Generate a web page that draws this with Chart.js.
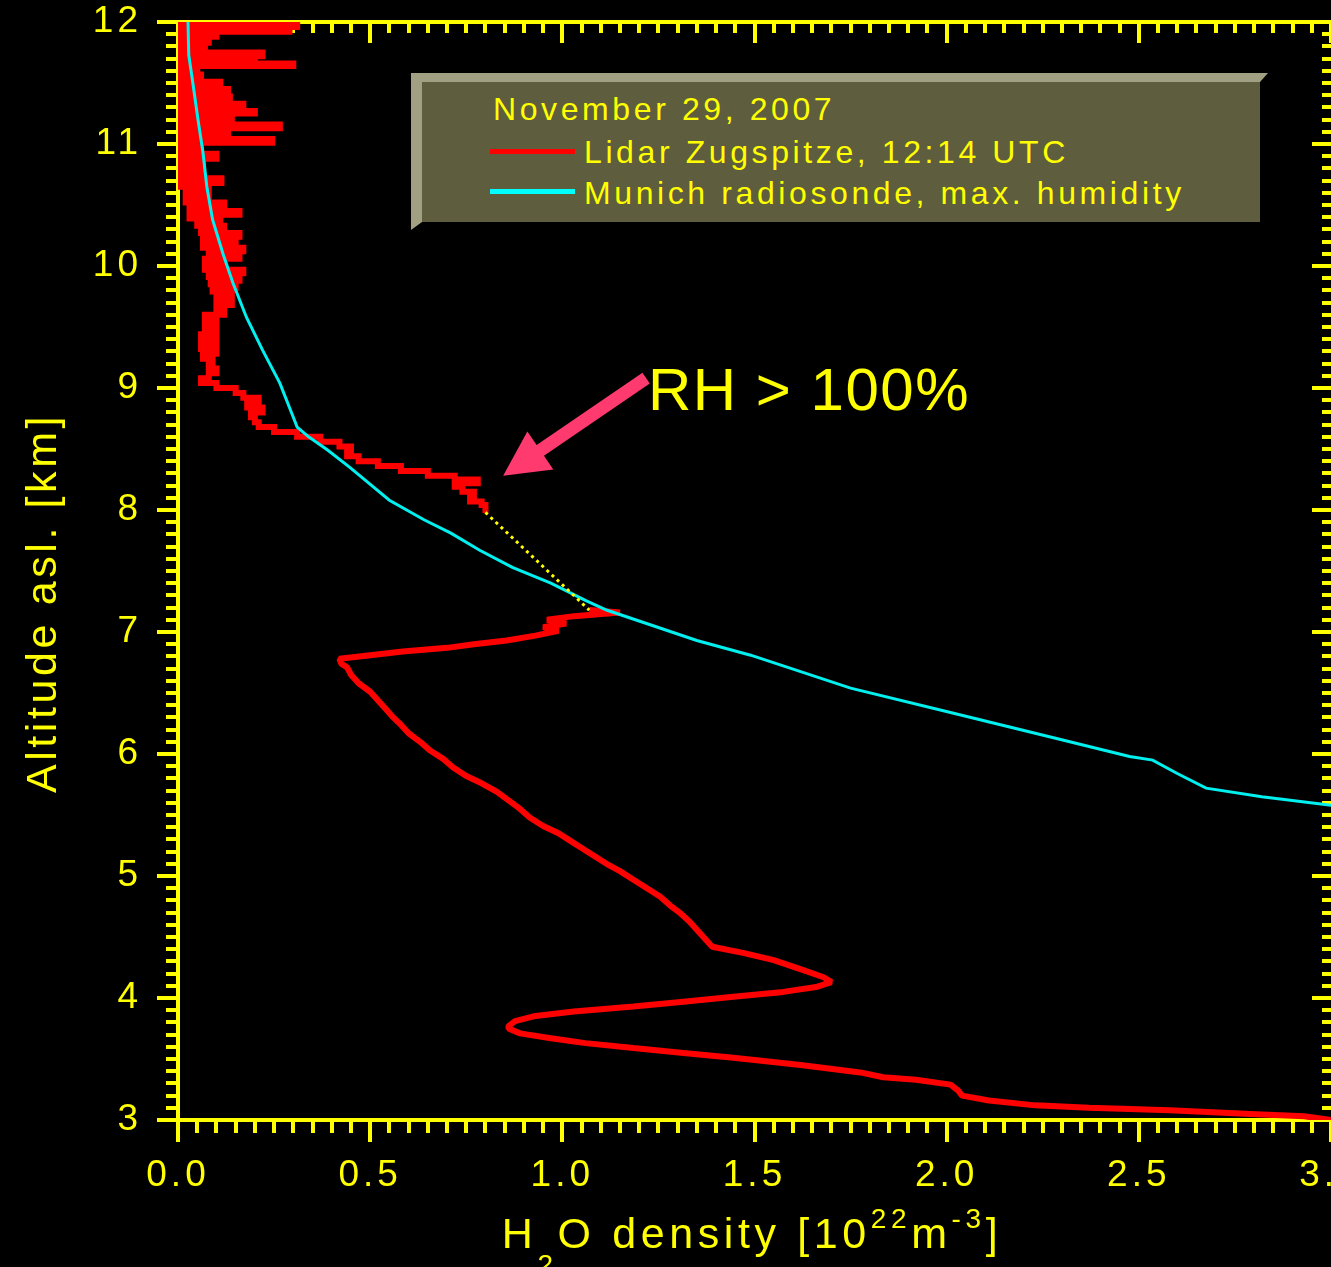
<!DOCTYPE html>
<html>
<head>
<meta charset="utf-8">
<script src="https://cdn.jsdelivr.net/npm/chart.js@4.4.0/dist/chart.umd.min.js"></script>
<style>
  html, body { margin: 0; padding: 0; background: #000; }
  #wrap { position: relative; width: 1331px; height: 1267px; overflow: hidden; background: #000; }
  canvas { display: block; }
  .txt { position: absolute; color: #ffff00; font-family: 'Liberation Sans', Arial, sans-serif; white-space: nowrap; }
  #legendBox {
    position: absolute; left: 411px; top: 73px; width: 838px; height: 140px;
    background: #5e5d3e; background-clip: padding-box;
    border-top: 9px solid #a2a082; border-left: 11px solid #a2a082;
    border-right: 8px solid transparent; border-bottom: 8px solid transparent;
  }
  .leg { font-size: 32px; line-height: 40px; letter-spacing: 3.6px; }
  .swatch { position: absolute; width: 85px; height: 5px; }
  #rh { font-size: 60px; line-height: 70px; letter-spacing: 1.5px; left: 648px; top: 355px; }
  #ytitle {
    font-size: 43px; line-height: 60px; letter-spacing: 3.6px; width: 600px; height: 60px;
    text-align: center; left: -259px; top: 573px; transform: rotate(-90deg);
  }
  #xtitle { font-size: 43px; line-height: 60px; letter-spacing: 4.6px; width: 1000px; left: 252px; top: 1203px; text-align: center; }
  #xtitle span { font-size: 28px; position: relative; }
  #xtitle .sub { top: 26px; }
  #xtitle .sup { top: -20px; }
</style>
</head>
<body>
<div id="wrap">
  <canvas id="chart" width="1331" height="1267"></canvas>
  <div id="legendBox"></div>
  <div class="txt leg" style="left:493px; top:89px;">November 29, 2007</div>
  <div class="swatch" style="left:490px; top:149px; background:#ff0000;"></div>
  <div class="txt leg" style="left:584px; top:132px;">Lidar Zugspitze, 12:14 UTC</div>
  <div class="swatch" style="left:490px; top:189px; background:#00ffff;"></div>
  <div class="txt leg" style="left:584px; top:173px;">Munich radiosonde, max. humidity</div>
  <div class="txt" id="rh">RH &gt; 100%</div>
  <div class="txt" id="ytitle">Altitude asl. [km]</div>
  <div class="txt" id="xtitle">H<span class="sub">2</span>O density [10<span class="sup">22</span>m<span class="sup">-3</span>]</div>
</div>
<script>
// Lidar profile above the cloud layer (altitude km, H2O density 1e22 m^-3)
const lidarUpperAlt = [
  12.00, 11.98, 11.96, 11.94, 11.92, 11.90, 11.88, 11.86, 11.83, 11.80,
  11.78, 11.75, 11.72, 11.70, 11.68, 11.66, 11.64, 11.62, 11.60, 11.57,
  11.54, 11.51, 11.48, 11.45, 11.42, 11.39, 11.36, 11.33, 11.30, 11.27,
  11.25, 11.22, 11.19, 11.16, 11.13, 11.10, 11.07, 11.04, 11.01, 10.98,
  10.95, 10.92, 10.88, 10.85, 10.82, 10.79, 10.75, 10.72, 10.68, 10.65,
  10.62, 10.58, 10.55, 10.52, 10.48, 10.45, 10.42, 10.39, 10.36, 10.33,
  10.30, 10.27, 10.24, 10.21, 10.18, 10.15, 10.12, 10.09, 10.06, 10.03,
  10.00, 9.97, 9.94, 9.91, 9.88, 9.85, 9.82, 9.79, 9.76, 9.72,
  9.68, 9.64, 9.60, 9.56, 9.52, 9.48, 9.44, 9.40, 9.36, 9.32,
  9.28, 9.24, 9.20, 9.16, 9.12, 9.08, 9.04, 9.00, 8.96, 8.92,
  8.88, 8.84, 8.80, 8.76, 8.72, 8.68, 8.64, 8.60, 8.56, 8.52,
  8.48, 8.44, 8.40, 8.36, 8.32, 8.28, 8.25, 8.22, 8.19, 8.15,
  8.11, 8.07, 8.04, 8.00
];
const lidarUpperH2O = [
  0.31, 0.00, 0.31, 0.00, 0.29, 0.00, 0.10, 0.00, 0.08, 0.00,
  0.07, 0.00, 0.22, 0.00, 0.20, 0.00, 0.30, 0.00, 0.05, 0.00,
  0.06, 0.00, 0.11, 0.00, 0.13, 0.00, 0.135, 0.00, 0.17, 0.00,
  0.20, 0.00, 0.14, 0.00, 0.265, 0.00, 0.13, 0.00, 0.245, 0.00,
  0.06, 0.00, 0.10, 0.00, 0.065, 0.00, 0.06, 0.00, 0.113, 0.00,
  0.08, 0.02, 0.08, 0.02, 0.12, 0.03, 0.16, 0.03, 0.11, 0.05,
  0.12, 0.06, 0.16, 0.065, 0.15, 0.065, 0.17, 0.08, 0.16, 0.07,
  0.12, 0.07, 0.17, 0.08, 0.16, 0.085, 0.15, 0.09, 0.14, 0.10,
  0.14, 0.10, 0.12, 0.07, 0.10, 0.07, 0.10, 0.06, 0.10, 0.06,
  0.10, 0.065, 0.09, 0.08, 0.10, 0.08, 0.06, 0.10, 0.15, 0.17,
  0.21, 0.18, 0.22, 0.19, 0.20, 0.21, 0.25, 0.31, 0.37, 0.42,
  0.45, 0.44, 0.47, 0.52, 0.58, 0.65, 0.72, 0.78, 0.72, 0.74,
  0.77, 0.76, 0.79, 0.80
];

// Lidar profile below the cloud layer
const lidarLowerAlt = [
  7.18, 7.16, 7.13, 7.10, 7.07, 7.04, 7.01, 6.97, 6.93, 6.90,
  6.87, 6.84, 6.81, 6.78, 6.74, 6.71, 6.65, 6.58, 6.51, 6.44,
  6.37, 6.30, 6.24, 6.17, 6.10, 6.03, 5.96, 5.89, 5.82, 5.76,
  5.69, 5.62, 5.55, 5.48, 5.41, 5.35, 5.29, 5.24, 5.17, 5.10,
  5.04, 4.97, 4.90, 4.83, 4.76, 4.70, 4.63, 4.56, 4.49, 4.42,
  4.37, 4.31, 4.23, 4.17, 4.13, 4.09, 4.05, 4.01, 3.97, 3.93,
  3.89, 3.85, 3.81, 3.77, 3.75, 3.71, 3.67, 3.63, 3.59, 3.55,
  3.51, 3.45, 3.39, 3.35, 3.33, 3.29, 3.24, 3.20, 3.16, 3.12,
  3.10, 3.08, 3.05, 3.03, 3.00
];
const lidarLowerH2O = [
  1.07, 1.15, 1.03, 0.96, 1.01, 0.95, 0.99, 0.93, 0.855, 0.77,
  0.70, 0.585, 0.50, 0.42, 0.425, 0.44, 0.45, 0.47, 0.50, 0.52,
  0.54, 0.56, 0.58, 0.60, 0.63, 0.655, 0.69, 0.716, 0.75, 0.79,
  0.83, 0.86, 0.89, 0.915, 0.95, 0.99, 1.02, 1.045, 1.08, 1.115,
  1.15, 1.185, 1.22, 1.255, 1.28, 1.305, 1.33, 1.35, 1.37, 1.39,
  1.47, 1.55, 1.625, 1.68, 1.70, 1.66, 1.575, 1.445, 1.315, 1.185,
  1.03, 0.925, 0.877, 0.86, 0.86, 0.89, 0.97, 1.06, 1.185, 1.315,
  1.445, 1.62, 1.775, 1.835, 1.92, 2.01, 2.03, 2.04, 2.11, 2.23,
  2.37, 2.58, 2.79, 2.93, 3.00
];

// Munich radiosonde, max. humidity
const sondeAlt = [
  12.00, 11.73, 11.47, 11.20, 10.93, 10.65, 10.38, 10.10, 9.86, 9.58,
  9.31, 9.04, 8.76, 8.68, 8.60, 8.49, 8.35, 8.08, 7.92, 7.81,
  7.67, 7.53, 7.40, 7.26, 7.18, 6.93, 6.81, 6.54, 6.34, 6.24,
  6.14, 5.98, 5.95, 5.84, 5.72, 5.65, 5.58
];
const sondeH2O = [
  0.026, 0.028, 0.040, 0.052, 0.065, 0.075, 0.090, 0.117, 0.143, 0.178,
  0.220, 0.265, 0.300, 0.310, 0.340, 0.390, 0.447, 0.550, 0.640, 0.710,
  0.785, 0.870, 0.970, 1.060, 1.115, 1.350, 1.490, 1.750, 2.010, 2.140,
  2.270, 2.476, 2.536, 2.600, 2.675, 2.820, 3.000
];

// dotted bridge across the lidar gap
const gapAlt = [7.98, 7.18];
const gapH2O = [0.80, 1.07];

// arrow pointing at the RH > 100% layer (data coordinates: [H2O, alt])
const arrowTail = [1.218, 9.08];
const arrowTip = [0.846, 8.28];

const YELLOW = '#ffff00';
const X_MAJOR = 0.5;
const Y_MAJOR = 1;

function toPoints(xs, ys) {
  return xs.map((v, i) => ({ x: v, y: ys[i] }));
}

function isMajor(v, step) {
  return Math.abs(v / step - Math.round(v / step)) < 1e-6;
}

// tick marks on all four sides plus the frame lines, and the arrow
const frameTicks = {
  id: 'frameTicks',
  beforeDraw(chart) {
    chart.ctx.letterSpacing = '4px';
  },
  beforeDatasetsDraw(chart) {
    const { ctx, chartArea: a, scales } = chart;
    const xs = scales.x, ys = scales.y;
    ctx.save();
    ctx.strokeStyle = YELLOW;
    ctx.lineWidth = 4;
    ctx.beginPath();
    ctx.moveTo(a.left, a.top); ctx.lineTo(a.right, a.top);
    ctx.moveTo(a.left, a.bottom); ctx.lineTo(a.right, a.bottom);
    ctx.moveTo(a.left, a.top - 2); ctx.lineTo(a.left, a.bottom + 2);
    ctx.stroke();
    ctx.beginPath();
    xs.ticks.forEach(t => {
      const px = Math.round(xs.getPixelForValue(t.value));
      const big = isMajor(t.value, X_MAJOR);
      ctx.moveTo(px, a.bottom); ctx.lineTo(px, a.bottom + (big ? 22 : 13));
      ctx.moveTo(px, a.top); ctx.lineTo(px, a.top + (big ? 21 : 11));
    });
    ys.ticks.forEach(t => {
      const py = Math.round(ys.getPixelForValue(t.value));
      const big = isMajor(t.value, Y_MAJOR);
      ctx.moveTo(a.left, py); ctx.lineTo(a.left - (big ? 21 : 12), py);
      ctx.moveTo(a.right, py); ctx.lineTo(a.right - (big ? 19 : 9), py);
    });
    ctx.stroke();
    ctx.restore();
  },
  afterDatasetsDraw(chart) {
    const { ctx, scales } = chart;
    const tx = scales.x.getPixelForValue(arrowTail[0]), ty = scales.y.getPixelForValue(arrowTail[1]);
    const hx = scales.x.getPixelForValue(arrowTip[0]), hy = scales.y.getPixelForValue(arrowTip[1]);
    const dx = tx - hx, dy = ty - hy, len = Math.hypot(dx, dy);
    const ux = dx / len, uy = dy / len, nx = -uy, ny = ux;
    const headLen = 45, headHalf = 23, shaftHalf = 6.5;
    const bx = hx + ux * headLen, by = hy + uy * headLen;
    ctx.save();
    ctx.fillStyle = '#ff3a6e';
    ctx.beginPath();
    ctx.moveTo(hx, hy);
    ctx.lineTo(bx + nx * headHalf, by + ny * headHalf);
    ctx.lineTo(bx + nx * shaftHalf, by + ny * shaftHalf);
    ctx.lineTo(tx + nx * shaftHalf, ty + ny * shaftHalf);
    ctx.lineTo(tx - nx * shaftHalf, ty - ny * shaftHalf);
    ctx.lineTo(bx - nx * shaftHalf, by - ny * shaftHalf);
    ctx.lineTo(bx - nx * headHalf, by - ny * headHalf);
    ctx.closePath();
    ctx.fill();
    ctx.restore();
  }
};

const tickFont = { family: "'Liberation Sans', Arial, sans-serif", size: 37 };

new Chart(document.getElementById('chart'), {
  type: 'line',
  data: {
    datasets: [
      {
        label: 'gap',
        data: toPoints(gapH2O, gapAlt),
        borderColor: YELLOW,
        borderWidth: 3,
        borderDash: [3, 4],
        pointRadius: 0,
        tension: 0
      },
      {
        label: 'Munich radiosonde, max. humidity',
        data: toPoints(sondeH2O, sondeAlt),
        borderColor: '#00f0f0',
        borderWidth: 3,
        pointRadius: 0,
        tension: 0
      },
      {
        label: 'Lidar Zugspitze, 12:14 UTC',
        data: toPoints(lidarUpperH2O, lidarUpperAlt),
        borderColor: '#ff0000',
        borderWidth: 6,
        borderCapStyle: 'square',
        stepped: 'before',
        pointRadius: 0
      },
      {
        label: 'Lidar Zugspitze (below cloud)',
        data: toPoints(lidarLowerH2O, lidarLowerAlt),
        borderColor: '#ff0000',
        borderWidth: 6,
        borderJoinStyle: 'bevel',
        pointRadius: 0,
        tension: 0
      }
    ]
  },
  options: {
    responsive: false,
    animation: false,
    devicePixelRatio: 1,
    layout: { padding: { top: 22, left: 0, right: 0, bottom: 0 } },
    plugins: { legend: { display: false }, tooltip: { enabled: false } },
    scales: {
      x: {
        type: 'linear',
        position: 'bottom',
        min: 0,
        max: 3,
        grid: { display: false, drawTicks: false },
        border: { display: false },
        ticks: {
          stepSize: 0.05,
          autoSkip: false,
          maxRotation: 0,
          color: YELLOW,
          font: tickFont,
          padding: 34,
          callback: v => isMajor(v, X_MAJOR) ? v.toFixed(1) : ''
        },
        afterFit(s) { s.height = 147; s.paddingLeft = 0; s.paddingRight = 0; }
      },
      y: {
        type: 'linear',
        min: 3,
        max: 12,
        grid: { display: false, drawTicks: false },
        border: { display: false },
        ticks: {
          stepSize: 0.1,
          autoSkip: false,
          color: YELLOW,
          font: tickFont,
          padding: 36,
          callback: v => isMajor(v, Y_MAJOR) ? String(Math.round(v)) : ''
        },
        afterFit(s) { s.width = 178; s.paddingTop = 0; s.paddingBottom = 0; }
      }
    }
  },
  plugins: [frameTicks]
});
</script>
</body>
</html>
